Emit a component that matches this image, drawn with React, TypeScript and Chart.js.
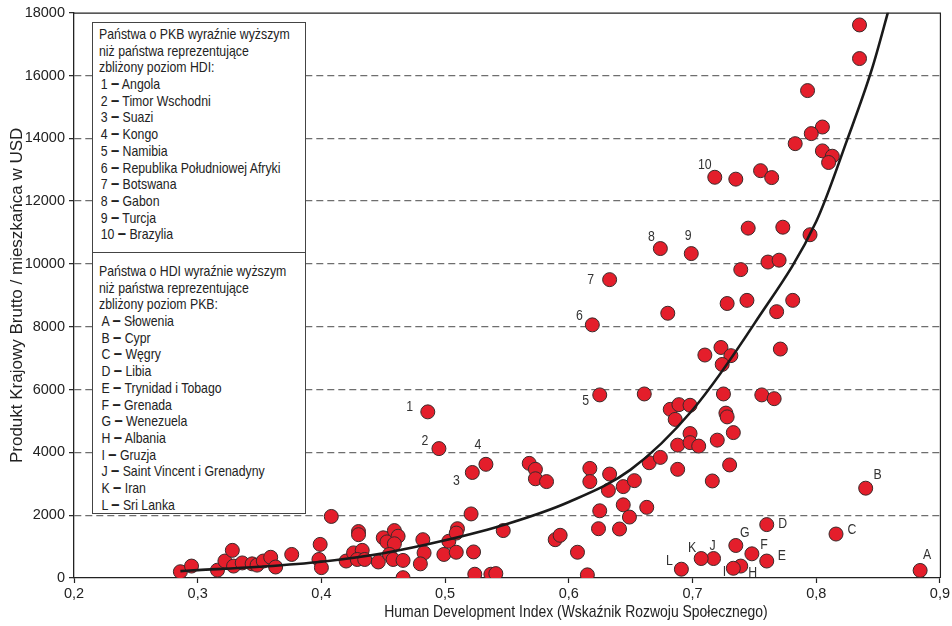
import React, { useEffect, useRef } from 'react';
import { Chart, registerables } from 'chart.js';

Chart.register(...registerables);

const FONT = "'Liberation Sans', Arial, sans-serif";
const NARROW = 0.82;

// Untagged countries: HDI and GDP per capita (USD)
const hdiValues = [
  0.286, 0.295, 0.316, 0.322, 0.328, 0.329, 0.336, 0.344, 0.348, 0.353, 0.359, 0.363, 0.376,
  0.399, 0.398, 0.400, 0.408, 0.420, 0.426, 0.430, 0.430, 0.433, 0.429, 0.435, 0.446, 0.450,
  0.453, 0.459, 0.462, 0.459, 0.455, 0.458, 0.466, 0.466, 0.482, 0.483, 0.480, 0.499, 0.503,
  0.568, 0.573, 0.573, 0.582, 0.617, 0.617, 0.633, 0.632, 0.644, 0.653, 0.665, 0.674, 0.688,
  0.688, 0.521, 0.510, 0.509, 0.547, 0.509, 0.523, 0.524, 0.537, 0.541, 0.589, 0.593, 0.607,
  0.615, 0.625, 0.644, 0.649, 0.663, 0.624, 0.641,
  0.745, 0.773, 0.795, 0.739, 0.761, 0.770, 0.728, 0.744, 0.781, 0.768, 0.680, 0.723, 0.710,
  0.731, 0.724, 0.771, 0.661, 0.725, 0.756, 0.766, 0.682, 0.689, 0.698, 0.686, 0.727, 0.728,
  0.733, 0.698, 0.720, 0.698, 0.705, 0.730, 0.716,
  0.835, 0.835, 0.793, 0.805, 0.796, 0.783, 0.805, 0.813, 0.810, 0.735, 0.755, 0.764,
];
const gdpValues = [
  200, 380, 250, 540, 880, 380, 480, 450, 410, 540, 660, 350, 750,
  1070, 590, 330, 1960, 540, 800, 1480, 1380, 880, 590, 590, 510, 1280,
  1150, 1510, 1330, 1090, 750, 590, 560, 10, 1220, 800, 450, 750, 1170,
  3650, 3460, 3160, 3070, 3490, 3070, 3310, 2790, 2910, 3100, 3670, 3840, 4230,
  3460, 2040, 1570, 1430, 1510, 820, 830, 120, 120, 140, 1220, 1360, 820,
  100, 2140, 2330, 1940, 2250, 1570, 1560,
  11140, 11170, 10930, 9820, 10060, 10120, 8740, 8840, 8840, 8480, 8430, 7340, 7100,
  7080, 6800, 7290, 5860, 5860, 5830, 5710, 5370, 5520, 5500, 5050, 5250, 5130,
  4630, 4600, 4390, 4310, 4200, 3600, 3090,
  17610, 16540, 15520, 14360, 14150, 13830, 13600, 13430, 13230, 12700, 12970, 12750,
];

// Tagged countries (labels shown next to the points)
const tagNames = ['1', '2', '3', '4', '5', '6', '7', '8', '9', '10', 'A', 'B', 'C', 'D', 'E', 'F', 'G', 'H', 'I', 'J', 'K', 'L'];
const tagHdi = [0.486, 0.495, 0.522, 0.533, 0.625, 0.619, 0.633, 0.674, 0.699, 0.718, 0.884, 0.840, 0.816, 0.760, 0.760, 0.748, 0.735, 0.739, 0.733, 0.717, 0.707, 0.691];
const tagGdp = [5290, 4120, 3360, 3620, 5830, 8060, 9500, 10490, 10330, 12760, 240, 2860, 1400, 1700, 540, 770, 1035, 380, 310, 620, 620, 280];
// label placement relative to point (px)
const tagOffsets: [number, number][] = [
  [-18, -5], [-14, -8], [-16, 8], [-8, -19], [-14, 6], [-13, -9], [-19, 0], [-9, -12], [-3, -18], [-10, -12],
  [7, -16], [12, -13], [16, -4], [16, -1], [15, -5], [12, -9], [9, -13], [12, 7], [-9, 4], [-1, -13], [-9, -11], [-12, -8],
];

// Trend curve
const trendHdi = [0.286, 0.3, 0.35, 0.4, 0.45, 0.5, 0.55, 0.6, 0.65, 0.7, 0.75, 0.8, 0.825, 0.845, 0.86];
const trendGdp = [220, 250, 360, 520, 790, 1200, 1720, 2420, 3450, 5350, 8100, 11350, 13950, 16200, 18300];

const xTitle = 'Human Development Index (Wskaźnik Rozwoju Społecznego)';
const yTitle = 'Produkt Krajowy Brutto / mieszkańca w USD';

const box1Title = ['Państwa o PKB wyraźnie wyższym', 'niż państwa reprezentujące', 'zbliżony poziom HDI:'];
const box1Keys = ['1', '2', '3', '4', '5', '6', '7', '8', '9', '10'];
const box1Names = ['Angola', 'Timor Wschodni', 'Suazi', 'Kongo', 'Namibia', 'Republika Południowej Afryki', 'Botswana', 'Gabon', 'Turcja', 'Brazylia'];
const box2Title = ['Państwa o HDI wyraźnie wyższym', 'niż państwa reprezentujące', 'zbliżony poziom PKB:'];
const box2Keys = ['A', 'B', 'C', 'D', 'E', 'F', 'G', 'H', 'I', 'J', 'K', 'L'];
const box2Names = ['Słowenia', 'Cypr', 'Węgry', 'Libia', 'Trynidad i Tobago', 'Grenada', 'Wenezuela', 'Albania', 'Gruzja', 'Saint Vincent i Grenadyny', 'Iran', 'Sri Lanka'];

function narrowText(ctx: CanvasRenderingContext2D, text: string, x: number, y: number, size: number, sx: number) {
  ctx.save();
  ctx.translate(x, y);
  ctx.scale(sx, 1);
  ctx.font = `${size}px ${FONT}`;
  ctx.textAlign = 'center';
  ctx.textBaseline = 'middle';
  ctx.fillText(text, 0, 0);
  ctx.restore();
}

const annotate = {
  id: 'annotate',
  afterDatasetsDraw(chart: any) {
    const { ctx, chartArea, scales } = chart;
    const x = scales.x;
    const y = scales.y;
    ctx.save();
    ctx.strokeStyle = '#222';
    ctx.lineWidth = 1.2;
    ctx.beginPath();
    ctx.moveTo(chartArea.left, chartArea.top + 0.5);
    ctx.lineTo(chartArea.right + 0.5, chartArea.top + 0.5);
    ctx.lineTo(chartArea.right + 0.5, chartArea.bottom);
    ctx.stroke();

    ctx.fillStyle = '#333';
    tagNames.forEach((t, i) => {
      const px = x.getPixelForValue(tagHdi[i]);
      const py = y.getPixelForValue(tagGdp[i]);
      narrowText(ctx, t, px + tagOffsets[i][0], py + tagOffsets[i][1], 15, NARROW);
    });

    ctx.fillStyle = '#222';
    narrowText(ctx, xTitle, 576, 612, 17, NARROW);

    ctx.translate(17, (chartArea.top + chartArea.bottom) / 2);
    ctx.rotate(-Math.PI / 2);
    ctx.font = `17px ${FONT}`;
    ctx.textAlign = 'center';
    ctx.textBaseline = 'middle';
    ctx.fillText(yTitle, 0, 0);
    ctx.restore();
  },
};

const boxStyle: React.CSSProperties = {
  position: 'absolute',
  left: 92,
  width: 214,
  boxSizing: 'border-box',
  border: '1px solid #444',
  background: '#fff',
  paddingLeft: 6,
  overflow: 'hidden',
};

const innerStyle: React.CSSProperties = {
  fontFamily: FONT,
  fontSize: 15,
  lineHeight: '16.7px',
  color: '#222',
  whiteSpace: 'nowrap',
  transform: `scaleX(${NARROW})`,
  transformOrigin: 'left top',
  width: 260,
};

const dashStyle: React.CSSProperties = { fontWeight: 'bold', fontSize: 18, lineHeight: '10px' };

function Box({ top, height, padTop, title, keys, names, indent }: any) {
  return (
    <div style={{ ...boxStyle, top, height, paddingTop: padTop }}>
      <div style={innerStyle}>
        {title.map((t: string, i: number) => (
          <div key={'t' + i}>{t}</div>
        ))}
        {keys.map((k: string, i: number) => (
          <div key={'k' + i} style={{ marginLeft: indent, height: '16.7px' }}>
            {k} <span style={dashStyle}>–</span> {names[i]}
          </div>
        ))}
      </div>
    </div>
  );
}

export default function App() {
  const canvasRef = useRef<HTMLCanvasElement | null>(null);

  useEffect(() => {
    if (!canvasRef.current) return;
    const points = hdiValues.map((v, i) => ({ x: v, y: gdpValues[i] }));
    const tagged = tagHdi.map((v, i) => ({ x: v, y: tagGdp[i] }));
    const trend = trendHdi.map((v, i) => ({ x: v, y: trendGdp[i] }));

    const chart = new Chart(canvasRef.current, {
      type: 'scatter',
      data: {
        datasets: [
          {
            label: 'trend',
            data: trend,
            showLine: true,
            borderColor: '#1a1a1a',
            borderWidth: 2.6,
            pointRadius: 0,
            cubicInterpolationMode: 'monotone',
            fill: false,
          } as any,
          {
            label: 'countries',
            data: [...points, ...tagged],
            backgroundColor: '#E41E2B',
            borderColor: '#3a2a2a',
            borderWidth: 1,
            pointRadius: 7,
          },
        ],
      },
      options: {
        animation: false,
        responsive: true,
        maintainAspectRatio: false,
        layout: { padding: { top: 10, right: 12, left: 0, bottom: 0 } },
        plugins: { legend: { display: false }, tooltip: { enabled: false } },
        scales: {
          x: {
            type: 'linear',
            min: 0.2,
            max: 0.9,
            afterFit: (s: any) => {
              s.height = 48;
            },
            ticks: {
              stepSize: 0.1,
              padding: 2,
              color: '#222',
              font: { family: FONT, size: 14.5 },
              callback: (v: any) => (Math.round(Number(v) * 10) / 10).toFixed(1).replace('.', ','),
            },
            grid: { drawOnChartArea: false, tickLength: 5, tickColor: '#222', tickWidth: 1.2 },
            border: { color: '#222', width: 1.3 },
          },
          y: {
            type: 'linear',
            min: 0,
            max: 18000,
            afterFit: (s: any) => {
              s.width = 74;
            },
            ticks: {
              stepSize: 2000,
              padding: 4,
              color: '#222',
              font: { family: FONT, size: 14.5 },
              callback: (v: any) => String(v),
            },
            grid: {
              color: (c: any) => (c.tick && (c.tick.value === 0 || c.tick.value === 18000) ? 'rgba(0,0,0,0)' : '#6e6e6e'),
              lineWidth: 1.3,
              tickLength: 5,
              tickColor: '#222',
              tickWidth: 1.2,
            },
            border: { color: '#222', width: 1.3, dash: [7, 4] },
          },
        },
      },
      plugins: [annotate],
    });
    return () => chart.destroy();
  }, []);

  return (
    <div style={{ position: 'fixed', left: 0, top: 0, width: 952, height: 626, background: '#fff' }}>
      <canvas ref={canvasRef} />
      <Box top={22} height={231} padTop={3} title={box1Title} keys={box1Keys} names={box1Names} indent={2} />
      <Box top={252} height={262} padTop={10} title={box2Title} keys={box2Keys} names={box2Names} indent={3} />
    </div>
  );
}
